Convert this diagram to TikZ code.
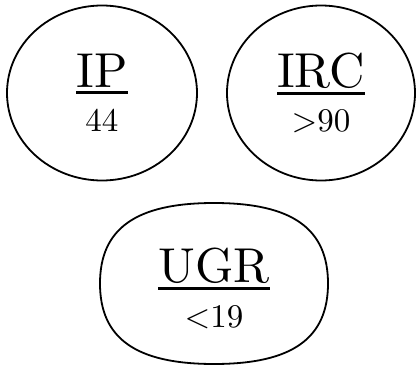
\documentclass[tikz,border=0pt]{standalone}
\usepackage{fontspec}
\setmainfont{lmroman10-regular}[Extension=.otf]
\usetikzlibrary{shapes.geometric,calc}
\newcommand{\ulname}[1]{\vtop{\hbox{#1}\kern3.5pt\hrule height 3pt}}
\tikzset{unit/.style={ellipse, draw, line width=1.8pt, inner sep=0pt, align=center,
    minimum height=175pt, font=\fontsize{49}{44}\selectfont}}
\begin{document}
\begin{tikzpicture}[x=1pt,y=1pt]
\useasboundingbox (0,0) rectangle (416,368);
\node[unit, minimum width=190pt] (ip) at (102,275) {\ulname{IP}\\\fontsize{33}{33}\selectfont 44};
\node[unit, minimum width=188pt] (irc) at (321,275) {\ulname{IRC}\\\fontsize{33}{33}\selectfont >90};
\node[align=center, inner sep=0pt, font=\fontsize{49}{45}\selectfont] (ugr) at (214,80) {\ulname{UGR}\\\fontsize{33}{33}\selectfont <19};
% rounded box round the bottom node
\coordinate (ugrc) at ($(ugr)+(0,4.5)$);
\begin{scope}[shift={(ugrc)}]
\draw[line width=1.8pt] (-114,0) .. controls (-114,55) and (-78,80.5) .. (0,80.5)
    .. controls (78,80.5) and (114,55) .. (114,0)
    .. controls (114,-55) and (78,-80.5) .. (0,-80.5)
    .. controls (-78,-80.5) and (-114,-55) .. (-114,0) -- cycle;
\end{scope}
\end{tikzpicture}
\end{document}
